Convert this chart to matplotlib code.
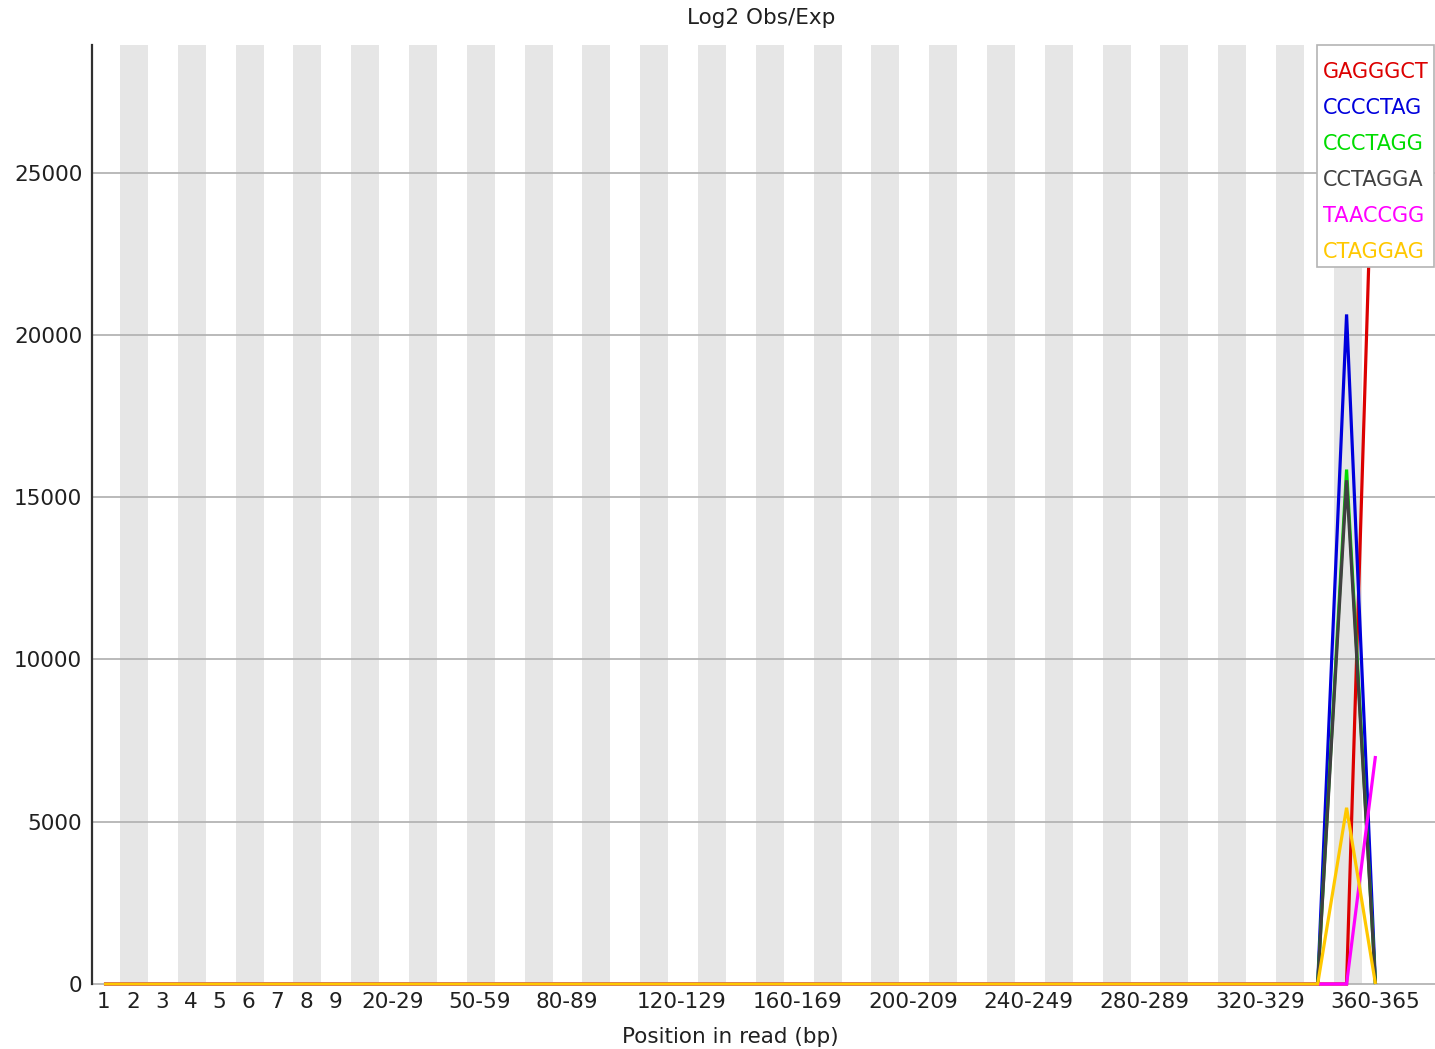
import matplotlib
matplotlib.use("Agg")
import matplotlib.pyplot as plt
from matplotlib.patches import Rectangle

# Position groups along the read
categories = [str(i) for i in range(1, 10)] + \
    [f"{s}-{s + 9}" for s in range(10, 360, 10)] + ["360-365"]
shown_labels = ["1", "2", "3", "4", "5", "6", "7", "8", "9", "20-29", "50-59",
                "80-89", "120-129", "160-169", "200-209", "240-249",
                "280-289", "320-329", "360-365"]

kmers = ["GAGGGCT", "CCCCTAG", "CCCTAGG", "CCTAGGA", "TAACCGG", "CTAGGAG"]
colors = ["#dc0000", "#0000dc", "#00dc00", "#404040", "#ff00ff", "#ffc800"]

n = len(categories)
# Values are zero everywhere except at the last three position groups
tail_gagggct = [0, 0, 28930]
tail_cccctag = [0, 20630, 0]
tail_ccctagg = [0, 15850, 0]
tail_cctagga = [0, 15520, 0]
tail_taaccgg = [0, 0, 7025]
tail_ctaggag = [0, 5430, 0]
tails = [tail_gagggct, tail_cccctag, tail_ccctagg, tail_cctagga,
         tail_taaccgg, tail_ctaggag]
series = [[0] * (n - len(t)) + t for t in tails]

yticks = [0, 5000, 10000, 15000, 20000, 25000]
ymax = 28930

W, H = 1435, 1049
fig = plt.figure(figsize=(W / 100, H / 100), dpi=100)
ax = fig.add_axes([92 / W, 65 / H, (W - 92) / W, 939 / H])

x = list(range(n))
ax.set_xlim(-0.415, 46.06)
ax.set_ylim(0, ymax)

# alternating background stripes
for i in range(1, n, 2):
    ax.add_patch(Rectangle((i - 0.445, 0), 0.97, ymax, facecolor="#e6e6e6",
                           edgecolor="none", zorder=0))

for yv in yticks:
    ax.axhline(yv, color="#b4b4b4", linewidth=1.3, zorder=1, clip_on=False)

for vals, c in zip(series, colors):
    ax.plot(x, vals, color=c, linewidth=2.3, zorder=3, clip_on=False,
            solid_joinstyle="miter", solid_capstyle="butt")

ax.set_xticks([categories.index(l) for l in shown_labels])
ax.set_xticklabels(shown_labels)
ax.set_yticks(yticks)
ax.set_yticklabels([str(v) for v in yticks])
ax.tick_params(axis="both", length=0, labelsize=15.5, colors="#202020")
ax.tick_params(axis="x", pad=6)
ax.tick_params(axis="y", pad=7)

for s in ["top", "right", "bottom"]:
    ax.spines[s].set_visible(False)
ax.spines["left"].set_color("#303030")
ax.spines["left"].set_linewidth(1.6)
ax.set_facecolor("white")

fig.text(761 / W, 1 - 18 / H, "Log2 Obs/Exp", ha="center", va="center",
         fontsize=15.5, color="#202020")
fig.text(730 / W, 1 - 1037 / H, "Position in read (bp)", ha="center",
         va="center", fontsize=15.5, color="#202020")

# key box with coloured k-mer names
fig.add_artist(Rectangle((1317 / W, 1 - 267 / H), 117 / W, 222 / H,
                         transform=fig.transFigure, facecolor="white",
                         edgecolor="#b4b4b4", linewidth=1.2, zorder=5))
for k, (name, c) in enumerate(zip(kmers, colors)):
    fig.text(1323 / W, 1 - (72 + 36 * k) / H, name, ha="left", va="center",
             fontsize=15, color=c, zorder=6)

fig.savefig("out.png", dpi=100)
